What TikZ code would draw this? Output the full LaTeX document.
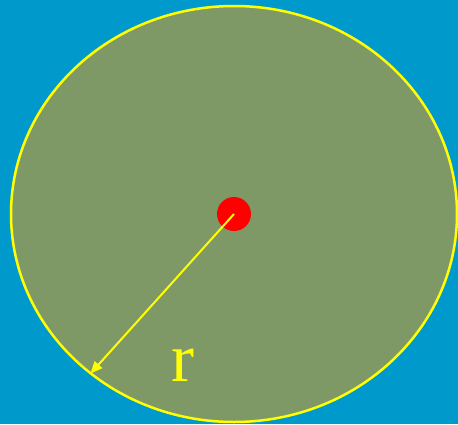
\documentclass[tikz,border=0pt]{standalone}
\usepackage{fontspec}
\setmainfont{Liberation Serif}
\usetikzlibrary{arrows.meta}
\definecolor{bgblue}{HTML}{0099CC}
\definecolor{disk}{HTML}{7F9966}
\definecolor{ylw}{HTML}{FFFF00}
\definecolor{rd}{HTML}{FF0000}
\begin{document}
\begin{tikzpicture}[x=1pt,y=-1pt,
  rim/.style={draw=ylw,fill=disk,line width=2.5pt},
  dot/.style={circle,fill=rd,minimum size=34pt,inner sep=0pt},
  radius arrow/.style={draw=ylw,line width=2pt,-{Triangle[length=12pt,width=10pt]}},
  lbl/.style={text=ylw,font=\fontsize{69}{69}\selectfont,inner sep=0pt}]
\fill[bgblue] (0,0) rectangle (458,424);
\useasboundingbox (0,0) rectangle (458,424);
\draw[rim] (234,214) ellipse [x radius=223pt, y radius=208pt];
\node[dot] (c) at (234,214) {};
\coordinate (e) at (90.5,373.5);
\draw[radius arrow] (c.center) -- (e);
\node[lbl] (r) at (182.5,365.5) {r};
\end{tikzpicture}
\end{document}
